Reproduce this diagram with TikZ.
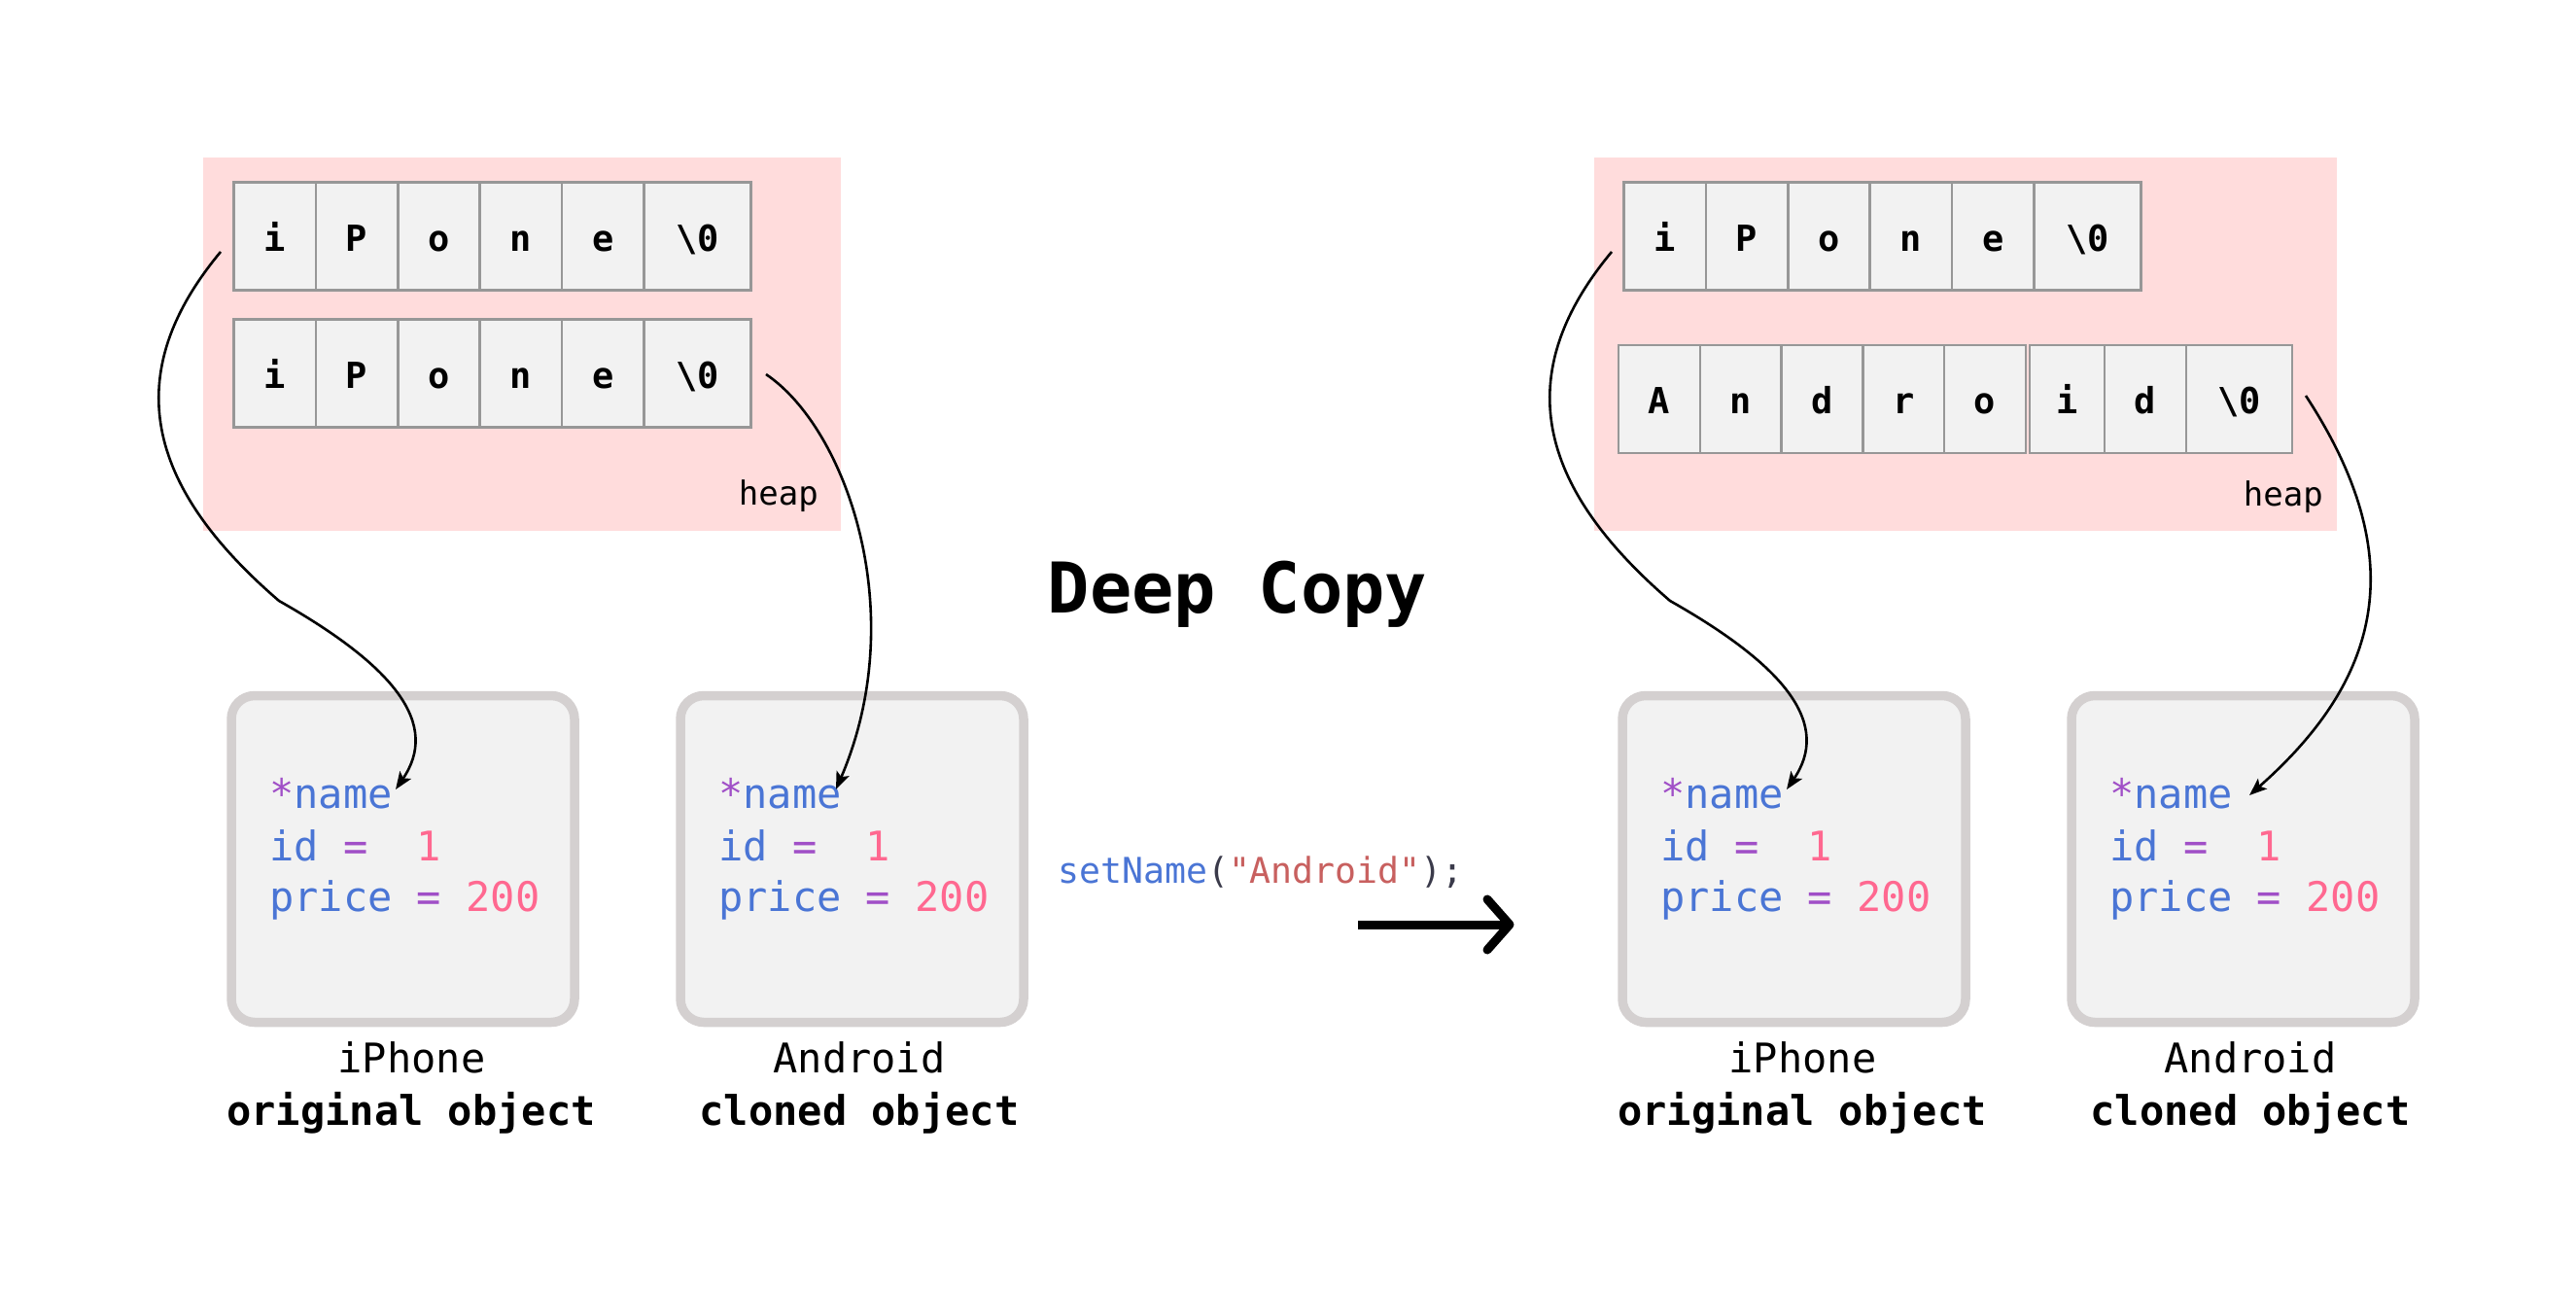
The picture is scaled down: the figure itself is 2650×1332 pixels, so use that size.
\documentclass[tikz,border=0pt]{standalone}
\usepackage{fontspec}
\setmonofont{DejaVu Sans Mono}
\usetikzlibrary{arrows.meta,calc}
\definecolor{heapbg}{HTML}{FFDCDC}
\definecolor{cellbg}{HTML}{F2F2F2}
\definecolor{cellln}{HTML}{979797}
\definecolor{boxln}{HTML}{D4D0D0}
\definecolor{cblue}{HTML}{4A75D5}
\definecolor{cpurple}{HTML}{A04FC7}
\definecolor{cpink}{HTML}{FF6890}
\definecolor{cdark}{HTML}{3A3A4A}
\definecolor{cstr}{HTML}{C8605F}
\tikzset{
  heapbox/.style={fill=heapbg, draw=none},
  cellbox/.style={draw=cellln, line width=2.5pt, fill=cellbg, minimum height=111pt,
    inner sep=0pt, text height=30pt, text depth=0pt,
    font=\ttfamily\bfseries\fontsize{37}{37}\selectfont},
  objbox/.style={draw=boxln, line width=9.5pt, fill=cellbg, rounded corners=24pt,
    minimum width=353pt, minimum height=336pt, inner sep=0pt},
  codetxt/.style={anchor=base west, inner sep=0pt, text=cblue,
    font=\ttfamily\fontsize{42}{42}\selectfont},
  lbl/.style={anchor=base, inner sep=0pt, font=\ttfamily\fontsize{42}{42}\selectfont},
  lblb/.style={anchor=base, inner sep=0pt, font=\ttfamily\bfseries\fontsize{42}{42}\selectfont},
  heaplbl/.style={anchor=base east, inner sep=0pt, font=\ttfamily\fontsize{34}{34}\selectfont},
  ptr/.style={line width=2.6pt, -{Stealth[length=18pt, width=14pt, inset=4pt]}},
  bigarrow/.style={line width=9pt, line cap=round, line join=round}
}
\begin{document}
\begin{tikzpicture}[x=1pt,y=-1pt]
\useasboundingbox (0,0) rectangle (2650,1332);
\fill[white] (0,0) rectangle (2650,1332);

% heaps
\node[heapbox, minimum width=656pt, minimum height=384pt, inner sep=0pt] (heapL) at (537,354) {};
\node[heapbox, minimum width=764pt, minimum height=384pt, inner sep=0pt] (heapR) at (2022,354) {};
\node[heaplbl] (heapLt) at (842,519) {heap};
\node[heaplbl] (heapRt) at (2390,520) {heap};

% left arrays
\foreach \ch [count=\i] in {i,P,o,n,e}
  \node[cellbox, minimum width=84.4pt] (a\i) at ({240.5+(\i-0.5)*84.4}, 243.25) {\ch};
\node[cellbox, minimum width=110pt] (a6) at (717.5, 243.25) {\textbackslash 0};
\foreach \ch [count=\i] in {i,P,o,n,e}
  \node[cellbox, minimum width=84.4pt] (b\i) at ({240.5+(\i-0.5)*84.4}, 384) {\ch};
\node[cellbox, minimum width=110pt] (b6) at (717.5, 384) {\textbackslash 0};

% right arrays
\foreach \ch [count=\i] in {i,P,o,n,e}
  \node[cellbox, minimum width=84.4pt] (c\i) at ({1670.5+(\i-0.5)*84.4}, 243.25) {\ch};
\node[cellbox, minimum width=110pt] (c6) at (2147.5, 243.25) {\textbackslash 0};
\foreach \ch [count=\i] in {A,n,d,r,o}
  \node[cellbox, minimum width=83.8pt] (d\i) at ({1665+(\i-0.5)*83.8}, 410.5) {\ch};
\node[cellbox, minimum width=77pt] (d6) at (2126.5, 410.5) {i};
\node[cellbox, minimum width=84pt] (d7) at (2207, 410.5) {d};
\node[cellbox, minimum width=109pt] (d8) at (2303.5, 410.5) {\textbackslash 0};

% object boxes
\node[objbox] (o1) at (414.5,883.5) {};
\node[objbox] (o2) at (876.5,883.5) {};
\node[objbox] (o3) at (1845.5,883.5) {};
\node[objbox] (o4) at (2307.5,883.5) {};

\foreach \nm/\x in {o1/277, o2/739, o3/1708, o4/2170} {
  \node[codetxt] (\nm n) at (\x,831) {\textcolor{cpurple}{*}name};
  \node[codetxt] (\nm i) at (\x,885) {id \textcolor{cpurple}{=}\ \ \textcolor{cpink}{1}};
  \node[codetxt] (\nm p) at (\x,937) {price \textcolor{cpurple}{=} \textcolor{cpink}{200}};
}

% labels
\node[lbl] (l1) at (423.5,1103) {iPhone};
\node[lblb] (l1b) at (423,1157) {original object};
\node[lbl] (l2) at (884,1103) {Android};
\node[lblb] (l2b) at (884,1157) {cloned object};
\node[lbl] (l3) at (1854.5,1103) {iPhone};
\node[lblb] (l3b) at (1854,1157) {original object};
\node[lbl] (l4) at (2315,1103) {Android};
\node[lblb] (l4b) at (2315,1157) {cloned object};

% title and call
\node[anchor=base, inner sep=0pt, font=\ttfamily\bfseries\fontsize{72}{72}\selectfont] (title) at (1273,630) {Deep Copy};
\node[anchor=base west, inner sep=0pt, font=\ttfamily\fontsize{36.5}{36.5}\selectfont] (call) at (1088,908)
  {\textcolor{cblue}{setName}\textcolor{cdark}{(}\textcolor{cstr}{"Android"}\textcolor{cdark}{);}};

% big arrow
\coordinate (ga) at (1397,951);
\coordinate (gb) at (1553,951);
\draw[line width=9pt] (ga) -- ($(gb)+(-4,0)$);
\draw[bigarrow] ($(gb)+(-23,-26)$) -- (gb) -- ($(gb)+(-23,26)$);

% pointer arrows
\coordinate (s1) at (227,259);
\coordinate (k1) at (287,618);
\coordinate (t1) at (407,812);
\coordinate (s2) at (788,385);
\coordinate (t2) at (860,812);
\coordinate (s3) at (1658,259);
\coordinate (k3) at (1718,618);
\coordinate (t3) at (1838,812);
\coordinate (s4) at (2372,407);
\coordinate (t4) at (2314,818);

\draw[ptr] (s1) .. controls (122,385) and (150,500) .. (k1) .. controls (409,687) and (452,746) .. (t1);
\draw[ptr] (s2) .. controls (870,440) and (938,630) .. (t2);
\draw[ptr] (s3) .. controls (1553,385) and (1581,500) .. (k3) .. controls (1840,687) and (1883,746) .. (t3);
\draw[ptr] (s4) .. controls (2482,575) and (2449,699) .. (t4);
\end{tikzpicture}
\end{document}
